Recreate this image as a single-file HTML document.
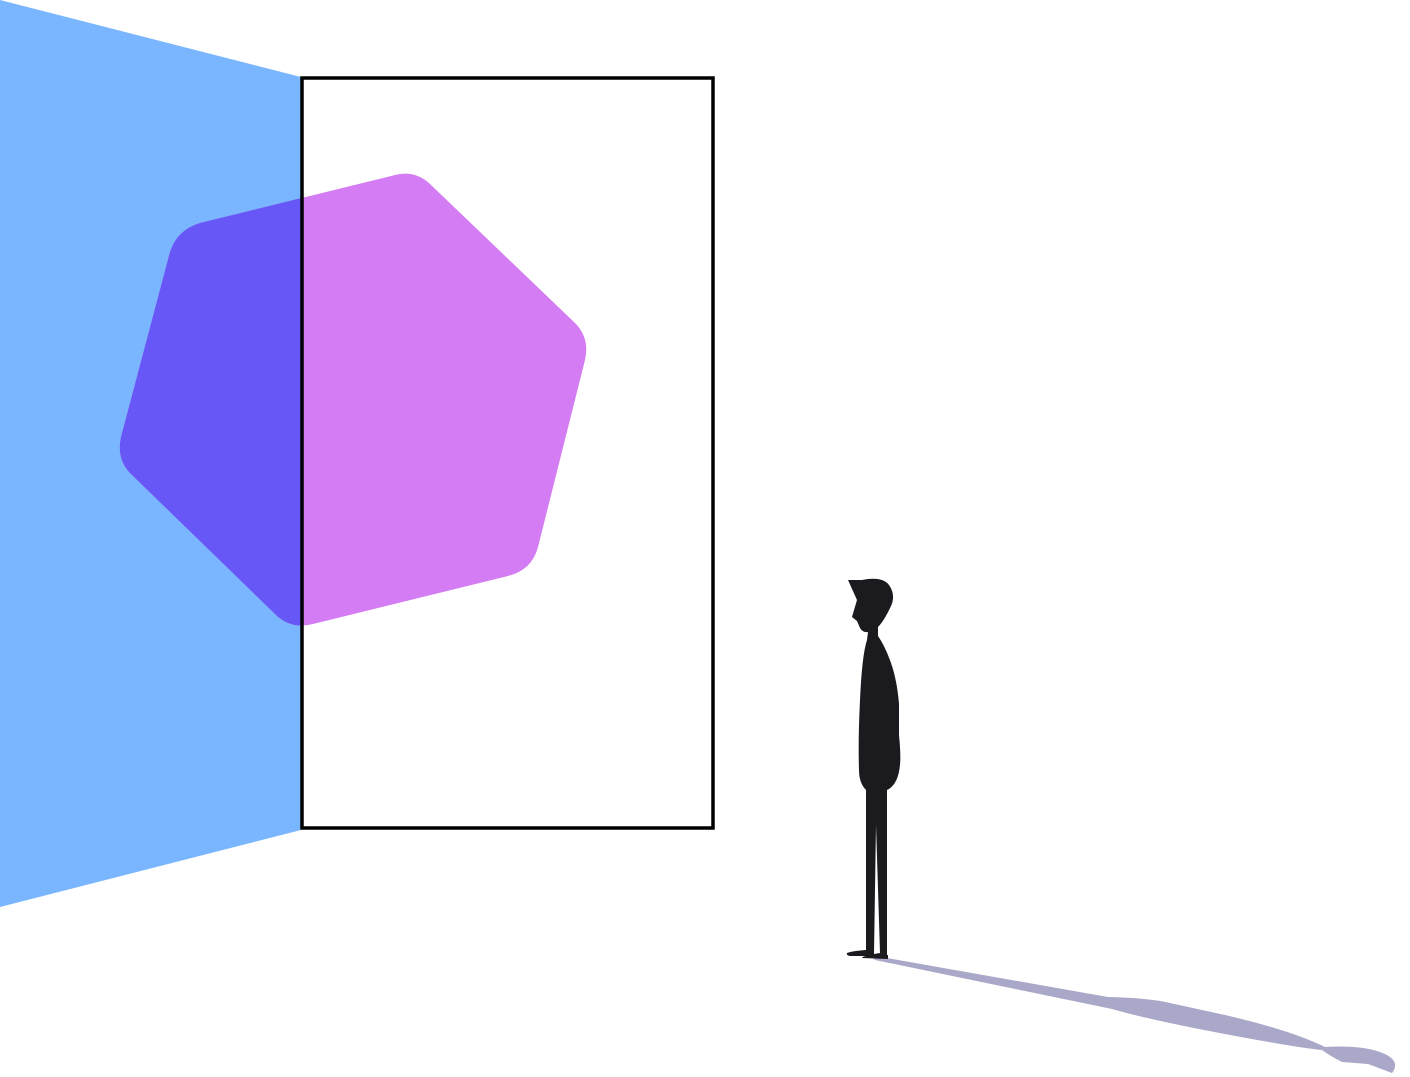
<!DOCTYPE html>
<html><head><style>html,body{margin:0;padding:0;background:#fff}svg{display:block}</style></head>
<body>
<svg width="1410" height="1077" viewBox="0 0 1410 1077" xmlns="http://www.w3.org/2000/svg">
<defs>
<clipPath id="left"><polygon points="0,0 301,77 301,830 0,907"/></clipPath>
<path id="hex" d="M395,175 Q415,170 430,184 L575,323 Q590,338 585,360 L538,547 Q532,570 508,576 L313,624 Q290,630 274,613 L132,475 Q116,460 121,437 L170,252 Q177,230 200,223 Z"/>
</defs>
<polygon points="0,0 301,77 301,830 0,907" fill="#79b6ff"/>
<use href="#hex" fill="#d47cf3"/>
<g clip-path="url(#left)"><use href="#hex" fill="#6757f6"/></g>
<rect x="302" y="78" width="411" height="750" fill="none" stroke="#000" stroke-width="3.5"/>
<path d="M870,955 L1108,997 Q1150,998 1170,1003 L1225,1015 Q1290,1030 1325,1047 Q1360,1045 1380,1052 Q1402,1060 1392,1073 L1368,1064 L1342,1062 Q1330,1056 1322,1050 Q1300,1048 1230,1035 Q1150,1020 1112,1009 L875,960 Z" fill="#aaa8c8"/>
<g fill="#1b1a1f">
<path d="M848,580 L862,580 Q882,576 889,585 Q896,595 891,606 Q884,621 878,627 L878,636 Q885,646 891,663 Q897,680 899,704 L899,735 Q901,755 900,765 Q898,785 887,790 L887,958 L866,958 L866,790 Q859,783 859,770 Q858,740 860,700 Q862,655 867,640 L868,632 Q863,633 860,628 L857,621 L852,617 L857,600 Z"/>
<path d="M866,950 Q852,951 847,953 Q846,956 852,956 L868,956 Z"/>
<path d="M873,955 Q862,956 862,958 L888,959 L888,955 Z"/>
</g>
<polygon points="876,825 880,953 874,954" fill="#fff"/>
</svg>
</body></html>
